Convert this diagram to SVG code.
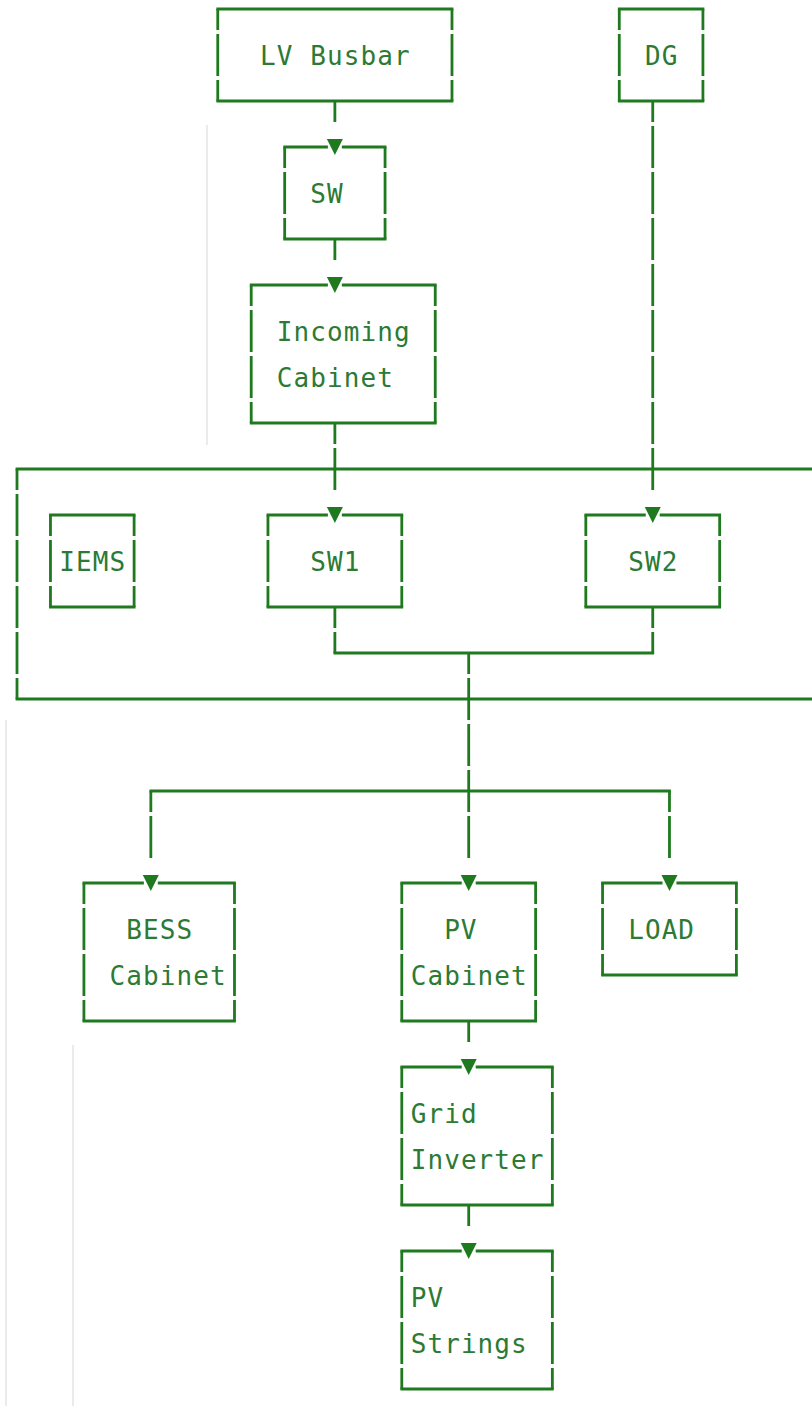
<svg xmlns="http://www.w3.org/2000/svg" width="812" height="1406" viewBox="0 0 812 1406">
<style>
.h{stroke:#1f7a1f;stroke-width:2.8;stroke-linecap:square;fill:none}
.v{stroke:#1f7a1f;stroke-width:2.8;stroke-linecap:butt;stroke-dasharray:42 4;stroke-dashoffset:21;fill:none}
.a{fill:#1f7a1f;stroke:none}
.t{font-family:"DejaVu Sans Mono","Liberation Mono",monospace;font-size:26px;letter-spacing:1.08px;fill:#2c7a34}
.g{stroke:#ebebeb;stroke-width:2}
</style>
<rect width="812" height="1406" fill="#ffffff"/>
<g id="guides">
<line class="g" x1="207" y1="125" x2="207" y2="445"/>
<line class="g" x1="6" y1="720" x2="6" y2="1406"/>
<line class="g" x1="73" y1="1045" x2="73" y2="1406"/>
</g>
<g id="container">
<line class="h" x1="17" y1="469" x2="820" y2="469"/>
<line class="h" x1="17" y1="699" x2="820" y2="699"/>
<line class="v" x1="17" y1="469" x2="17" y2="699"/>
</g>
<g id="lv-busbar">
<line class="h" x1="217.76" y1="9" x2="451.98" y2="9"/>
<line class="h" x1="217.76" y1="101" x2="451.98" y2="101"/>
<line class="v" x1="217.76" y1="9" x2="217.76" y2="101"/>
<line class="v" x1="451.98" y1="9" x2="451.98" y2="101"/>
<text class="t" x="260.12" y="64.5">LV Busbar</text>
</g>
<g id="dg">
<line class="h" x1="619.28" y1="9" x2="702.93" y2="9"/>
<line class="h" x1="619.28" y1="101" x2="702.93" y2="101"/>
<line class="v" x1="619.28" y1="9" x2="619.28" y2="101"/>
<line class="v" x1="702.93" y1="9" x2="702.93" y2="101"/>
<text class="t" x="644.91" y="64.5">DG</text>
</g>
<g id="sw">
<line class="h" x1="284.68" y1="147" x2="326.5" y2="147"/>
<line class="h" x1="343.24" y1="147" x2="385.06" y2="147"/>
<line class="h" x1="284.68" y1="239" x2="385.06" y2="239"/>
<line class="v" x1="284.68" y1="147" x2="284.68" y2="239"/>
<line class="v" x1="385.06" y1="147" x2="385.06" y2="239"/>
<text class="t" x="310.31" y="202.5">SW</text>
</g>
<g id="incoming-cabinet">
<line class="h" x1="251.22" y1="285" x2="326.5" y2="285"/>
<line class="h" x1="343.24" y1="285" x2="435.25" y2="285"/>
<line class="h" x1="251.22" y1="423" x2="435.25" y2="423"/>
<line class="v" x1="251.22" y1="285" x2="251.22" y2="423"/>
<line class="v" x1="435.25" y1="285" x2="435.25" y2="423"/>
<text class="t" x="276.85" y="340.5">Incoming</text>
<text class="t" x="276.85" y="386.5">Cabinet</text>
</g>
<g id="iems">
<line class="h" x1="50.46" y1="515" x2="134.11" y2="515"/>
<line class="h" x1="50.46" y1="607" x2="134.11" y2="607"/>
<line class="v" x1="50.46" y1="515" x2="50.46" y2="607"/>
<line class="v" x1="134.11" y1="515" x2="134.11" y2="607"/>
<text class="t" x="59.36" y="570.5">IEMS</text>
</g>
<g id="sw1">
<line class="h" x1="267.95" y1="515" x2="326.5" y2="515"/>
<line class="h" x1="343.24" y1="515" x2="401.79" y2="515"/>
<line class="h" x1="267.95" y1="607" x2="401.79" y2="607"/>
<line class="v" x1="267.95" y1="515" x2="267.95" y2="607"/>
<line class="v" x1="401.79" y1="515" x2="401.79" y2="607"/>
<text class="t" x="310.31" y="570.5">SW1</text>
</g>
<g id="sw2">
<line class="h" x1="585.82" y1="515" x2="644.37" y2="515"/>
<line class="h" x1="661.11" y1="515" x2="719.66" y2="515"/>
<line class="h" x1="585.82" y1="607" x2="719.66" y2="607"/>
<line class="v" x1="585.82" y1="515" x2="585.82" y2="607"/>
<line class="v" x1="719.66" y1="515" x2="719.66" y2="607"/>
<text class="t" x="628.18" y="570.5">SW2</text>
</g>
<g id="bess-cabinet">
<line class="h" x1="83.92" y1="883" x2="142.47" y2="883"/>
<line class="h" x1="159.21" y1="883" x2="234.49" y2="883"/>
<line class="h" x1="83.92" y1="1021" x2="234.49" y2="1021"/>
<line class="v" x1="83.92" y1="883" x2="83.92" y2="1021"/>
<line class="v" x1="234.49" y1="883" x2="234.49" y2="1021"/>
<text class="t" x="126.28" y="938.5">BESS</text>
<text class="t" x="109.55" y="984.5">Cabinet</text>
</g>
<g id="pv-cabinet">
<line class="h" x1="401.79" y1="883" x2="460.34" y2="883"/>
<line class="h" x1="477.08" y1="883" x2="535.63" y2="883"/>
<line class="h" x1="401.79" y1="1021" x2="535.63" y2="1021"/>
<line class="v" x1="401.79" y1="883" x2="401.79" y2="1021"/>
<line class="v" x1="535.63" y1="883" x2="535.63" y2="1021"/>
<text class="t" x="444.15" y="938.5">PV</text>
<text class="t" x="410.69" y="984.5">Cabinet</text>
</g>
<g id="load">
<line class="h" x1="602.55" y1="883" x2="661.1" y2="883"/>
<line class="h" x1="677.84" y1="883" x2="736.39" y2="883"/>
<line class="h" x1="602.55" y1="975" x2="736.39" y2="975"/>
<line class="v" x1="602.55" y1="883" x2="602.55" y2="975"/>
<line class="v" x1="736.39" y1="883" x2="736.39" y2="975"/>
<text class="t" x="628.18" y="938.5">LOAD</text>
</g>
<g id="grid-inverter">
<line class="h" x1="401.79" y1="1067" x2="460.34" y2="1067"/>
<line class="h" x1="477.08" y1="1067" x2="552.36" y2="1067"/>
<line class="h" x1="401.79" y1="1205" x2="552.36" y2="1205"/>
<line class="v" x1="401.79" y1="1067" x2="401.79" y2="1205"/>
<line class="v" x1="552.36" y1="1067" x2="552.36" y2="1205"/>
<text class="t" x="410.69" y="1122.5">Grid</text>
<text class="t" x="410.69" y="1168.5">Inverter</text>
</g>
<g id="pv-strings">
<line class="h" x1="401.79" y1="1251" x2="460.34" y2="1251"/>
<line class="h" x1="477.08" y1="1251" x2="552.36" y2="1251"/>
<line class="h" x1="401.79" y1="1389" x2="552.36" y2="1389"/>
<line class="v" x1="401.79" y1="1251" x2="401.79" y2="1389"/>
<line class="v" x1="552.36" y1="1251" x2="552.36" y2="1389"/>
<text class="t" x="410.69" y="1306.5">PV</text>
<text class="t" x="410.69" y="1352.5">Strings</text>
</g>
<g id="connectors">
<line class="v" x1="334.87" y1="101" x2="334.87" y2="122"/>
<line class="v" x1="334.87" y1="239" x2="334.87" y2="260"/>
<line class="v" x1="334.87" y1="423" x2="334.87" y2="490"/>
<line class="v" x1="652.74" y1="101" x2="652.74" y2="490"/>
<line class="v" x1="334.87" y1="607" x2="334.87" y2="653"/>
<line class="v" x1="652.74" y1="607" x2="652.74" y2="653"/>
<line class="h" x1="334.87" y1="653" x2="652.74" y2="653"/>
<line class="v" x1="468.71" y1="653" x2="468.71" y2="858"/>
<line class="h" x1="150.84" y1="791" x2="669.47" y2="791"/>
<line class="v" x1="150.84" y1="791" x2="150.84" y2="858"/>
<line class="v" x1="669.47" y1="791" x2="669.47" y2="858"/>
<line class="v" x1="468.71" y1="1021" x2="468.71" y2="1042"/>
<line class="v" x1="468.71" y1="1205" x2="468.71" y2="1226"/>
<polygon class="a" points="326.87,139 342.87,139 334.87,155"/>
<polygon class="a" points="326.87,277 342.87,277 334.87,293"/>
<polygon class="a" points="326.87,507 342.87,507 334.87,523"/>
<polygon class="a" points="644.74,507 660.74,507 652.74,523"/>
<polygon class="a" points="142.84,875 158.84,875 150.84,891"/>
<polygon class="a" points="460.71,875 476.71,875 468.71,891"/>
<polygon class="a" points="661.47,875 677.47,875 669.47,891"/>
<polygon class="a" points="460.71,1059 476.71,1059 468.71,1075"/>
<polygon class="a" points="460.71,1243 476.71,1243 468.71,1259"/>
</g>
</svg>
